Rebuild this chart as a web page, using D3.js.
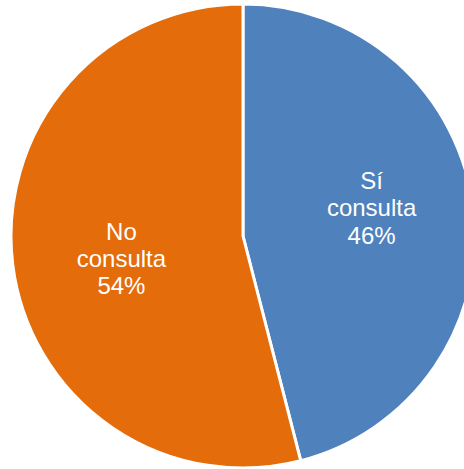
<!DOCTYPE html>
<html><head><meta charset="utf-8">
<script src="https://cdn.jsdelivr.net/npm/d3@7"></script>
<style>body{margin:0;background:#fff}</style>
</head><body>
<svg id="c" width="464" height="469"></svg>
<script>
const categories = ["Sí consulta", "No consulta"];
const values = [46, 54];
const colors = ["#4f81bd", "#e46c0a"];
const labelLines = [["Sí", "consulta", "46%"], ["No", "consulta", "54%"]];

const svg = d3.select("#c");
const cx = 243, cy = 236, r = 232;
const g = svg.append("g").attr("transform", `translate(${cx},${cy})`);
const pie = d3.pie().sort(null).value(d => d)(values);
const arc = d3.arc().innerRadius(0).outerRadius(r);
g.selectAll("path").data(pie).enter().append("path")
  .attr("d", arc)
  .attr("fill", (d, i) => colors[i])
  .attr("stroke", "#fff").attr("stroke-width", 3).attr("stroke-linejoin", "round");

const labelArc = d3.arc().innerRadius(r * 0.55).outerRadius(r * 0.55);
const shift = [[2, -12], [5, 7]];
pie.forEach((d, i) => {
  const [x0, y0] = labelArc.centroid(d);
  const x = x0 + shift[i][0], y = y0 + shift[i][1];
  const t = g.append("text").attr("text-anchor", "middle")
    .attr("font-family", "Liberation Sans, Arial, sans-serif")
    .attr("font-size", 24).attr("fill", "#fff");
  labelLines[i].forEach((s, k) => {
    t.append("tspan").attr("x", x).attr("y", y + (k - 1) * 27.5 + 8).text(s);
  });
});
</script>
</body></html>
